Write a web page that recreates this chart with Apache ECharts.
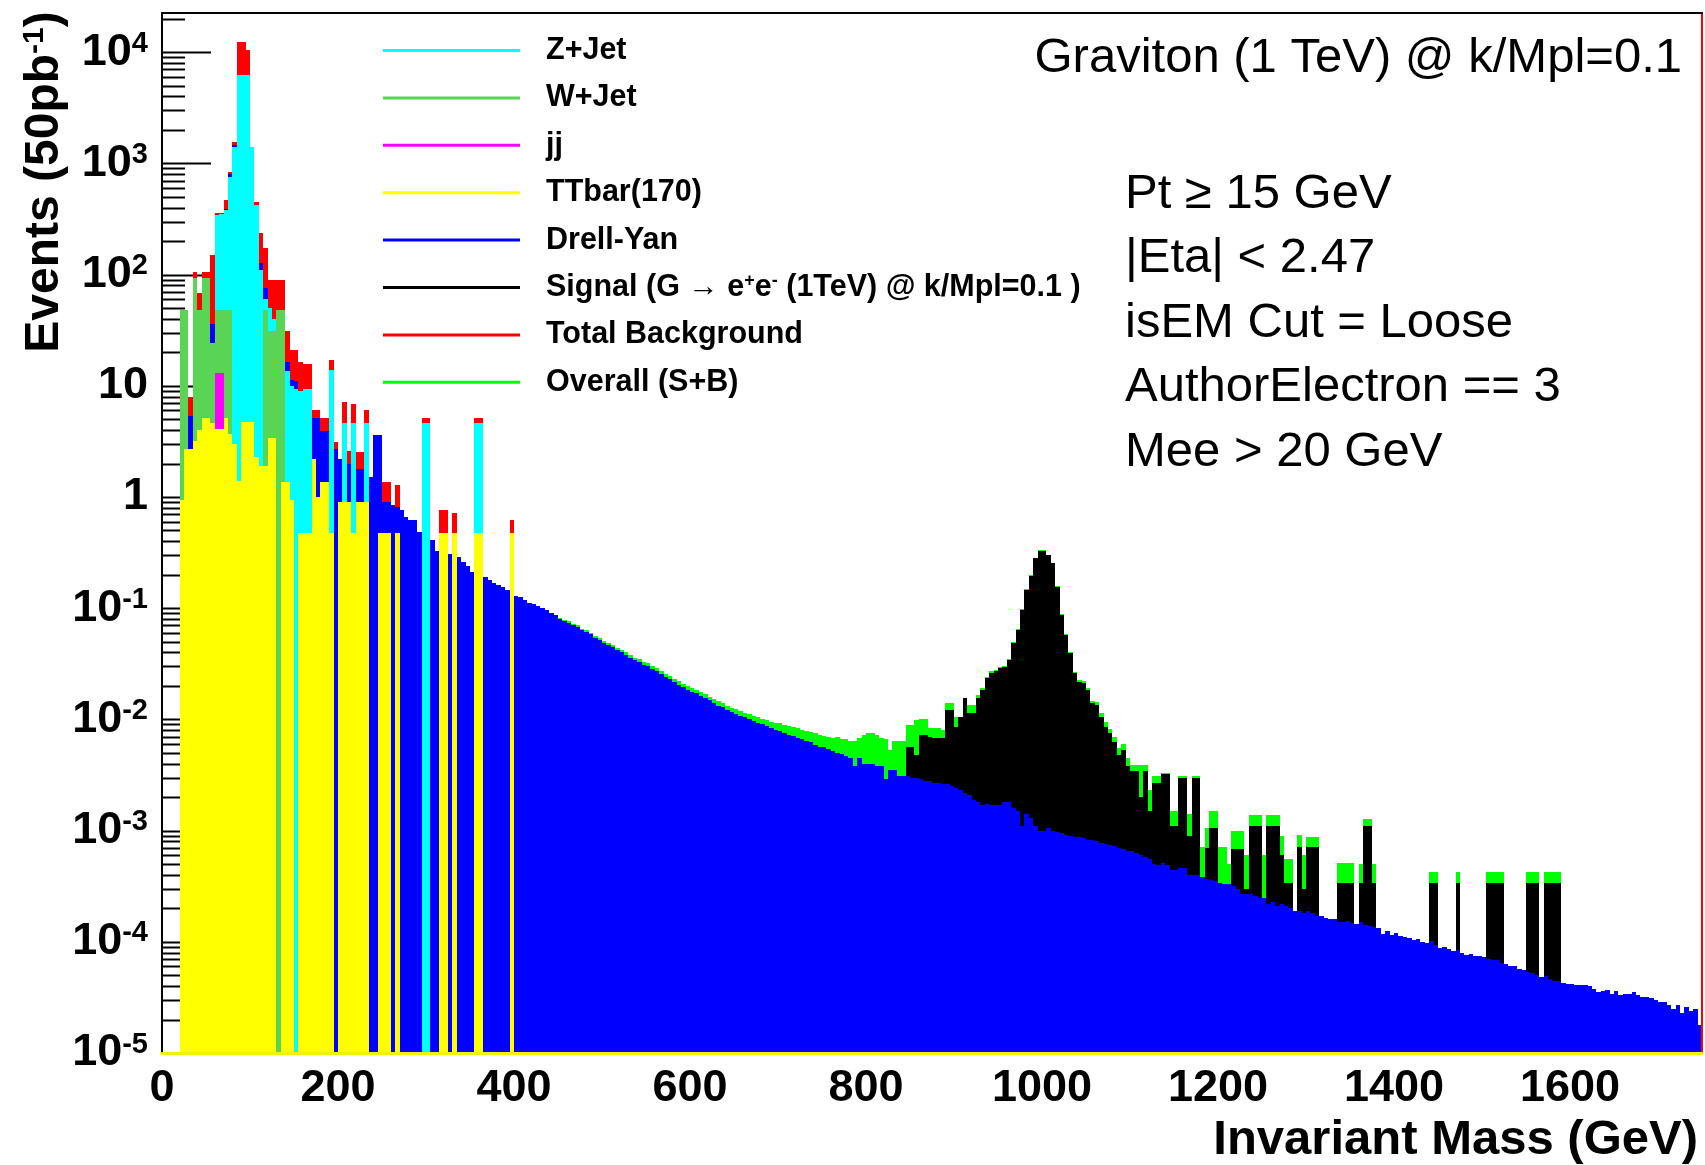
<!DOCTYPE html>
<html>
<head>
<meta charset="utf-8">
<title>Invariant mass spectrum - Graviton (1 TeV)</title>
<script src="https://cdn.jsdelivr.net/npm/echarts@6/dist/echarts.min.js"></script>
<style>
  html, body { margin: 0; padding: 0; background: #ffffff; }
  #chart { width: 1705px; height: 1165px; }
</style>
</head>
<body>
<div id="chart"></div>
<script>
// ---- binning and axis ranges ----
const BIN_WIDTH = 5;            // GeV per histogram bin
const MASS_MIN = 0, MASS_MAX = 1750;
const Y_MIN = 1e-5, Y_MAX = 2.25e4;
const X_TICK_STEP = 200;

// ---- per-bin contents (events / 50 pb^-1), first bin edge given by *_START ----
const LOW_START = 20;

// TTbar(170), 20 .. 400 GeV
const ttbar = [
  0.94, 2.7, 2.7, 3.2, 4.0, 5.1, 5.1, 4.6, 4.1, 4.1,
  5.1, 3.7, 3.0, 1.4, 4.7, 4.7, 4.7, 2.3, 1.9, 1.9,
  3.4, 3.4, 0, 1.37, 1.37, 0.94, 0, 0.47, 0.47, 0.47,
  2.2, 1.0, 1.37, 1.37, 0.47, 0, 0.9, 0.9, 0.9, 0.47,
  0.9, 0.9, 0.9, 0, 0, 0.47, 0.47, 0.47, 0, 0.47,
  0, 0, 0, 0, 0, 0, 0, 0, 0, 0.47,
  0.47, 0, 0.47, 0, 0, 0, 0, 0.47, 0.47, 0,
  0, 0, 0, 0, 0, 0.47, 0
];

// W+Jet, 20 .. 135 GeV
const wJet = [
  48, 48, 0, 93, 48, 93, 93, 24, 48, 48,
  48, 48, 0, 0, 0, 0, 0, 0, 0, 48,
  31, 31, 48, 48
];

// Z+Jet, 20 .. 360 GeV
const zJet = [
  0, 0, 0, 0, 0, 0, 0, 0, 340, 350,
  380, 760, 1400, 6240, 6240, 6240, 1400, 420, 110, 60,
  50, 40, 30, 25, 13.7, 10, 9.3, 9.0, 9.3, 9.3,
  0, 0, 0, 0, 13.8, 0, 0, 4.6, 0, 4.6,
  0, 0, 4.6, 0, 0, 0, 0, 0, 0, 0,
  0, 0, 0, 0, 0, 4.6, 4.6, 0, 0, 0,
  0, 0, 0, 0, 0, 0, 0, 4.6, 4.6
];

// jj, 20 .. 65 GeV
const diJet = [0, 0, 0, 0, 0, 0, 0, 0, 12.9, 12.9];

// Total background, 20 .. 400 GeV (above 400 GeV it coincides with Drell-Yan)
const totalBkg = [
  48, 48, 8.0, 106, 68, 106, 106, 150, 356, 356,
  469, 842, 1567, 12400, 12400, 10470, 1410, 453, 235, 172,
  89, 89, 89, 89, 31, 21, 21, 16.5, 15.8, 15.8,
  6.1, 6.1, 5.1, 5.1, 17, 3.1, 2.2, 7.1, 2.6, 6.9,
  2.55, 2.55, 6.1, 1.52, 3.6, 3.6, 1.37, 1.37, 0.85, 1.27,
  0.76, 0.66, 0.62, 0.62, 0.48, 5.1, 5.1, 0.41, 0.33, 0.77,
  0.77, 0.31, 0.72, 0.29, 0.26, 0.24, 0.21, 5.1, 5.1, 0.19,
  0.18, 0.17, 0.16, 0.155, 0.145, 0.62, 0.128
];

// Drell-Yan, 20 .. 1745 GeV
const drellYan = [
  5, 5.3, 5.3, 8, 10, 14, 20, 36, 60, 150,
  390, 800, 1450, 2500, 3000, 2000, 800, 300, 126, 75,
  45, 35, 28, 22, 16.4, 11.3, 11, 7, 6.5, 6,
  5.1, 5.1, 3.9, 3.9, 3.3, 2.7, 2.2, 2.2, 2.0, 2.0,
  1.8, 1.8, 1.6, 1.52, 3.6, 3.6, 0.9, 0.9, 0.85, 0.82,
  0.76, 0.66, 0.62, 0.62, 0.48, 0.45, 0.43, 0.41, 0.33, 0.33,
  0.32, 0.31, 0.30, 0.29, 0.26, 0.24, 0.21, 0.20, 0.20, 0.19,
  0.18, 0.17, 0.16, 0.155, 0.145, 0.135, 0.128, 0.125, 0.118, 0.112,
  0.110, 0.105, 0.100, 0.097, 0.090, 0.087, 0.080, 0.077, 0.074, 0.070,
  0.068, 0.063, 0.061, 0.058, 0.054, 0.052, 0.049, 0.047, 0.045, 0.042,
  0.040, 0.038, 0.036, 0.034, 0.033, 0.031, 0.030, 0.0285, 0.027, 0.0255,
  0.024, 0.023, 0.0215, 0.0205, 0.0195, 0.0185, 0.0178, 0.0172, 0.0163, 0.0155,
  0.0148, 0.0140, 0.0133, 0.0128, 0.0121, 0.0116, 0.0112, 0.0108, 0.0104, 0.0100,
  0.0097, 0.0093, 0.0090, 0.0087, 0.0084, 0.0081, 0.0079, 0.0076, 0.0073, 0.0071,
  0.0068, 0.0066, 0.0064, 0.0062, 0.0059, 0.0057, 0.0056, 0.0054, 0.0052, 0.0050,
  0.0049, 0.0047, 0.0045, 0.0038, 0.0045, 0.0040, 0.0040, 0.0040, 0.0038, 0.0038,
  0.0029, 0.0035, 0.0035, 0.0031, 0.0031, 0.0031, 0.0030, 0.0030, 0.0029, 0.0028,
  0.0028, 0.0027, 0.0027, 0.0026, 0.0026, 0.0025, 0.0024, 0.0023, 0.0022, 0.0021,
  0.0019, 0.0018, 0.0017, 0.00175, 0.0017, 0.0017, 0.0017, 0.0018, 0.0018, 0.0016,
  0.0015, 0.0011, 0.0014, 0.0013, 0.0011, 0.0010, 0.0010, 0.00105, 0.0010, 0.00098,
  0.00095, 0.00092, 0.00090, 0.00088, 0.00087, 0.00085, 0.00083, 0.00082, 0.00080, 0.00078,
  0.00075, 0.00074, 0.00072, 0.00070, 0.00068, 0.00066, 0.00066, 0.00063, 0.00060, 0.00058,
  0.00055, 0.00050, 0.00049, 0.00051, 0.00049, 0.00044, 0.00044, 0.00046, 0.00046, 0.00040,
  0.00040, 0.00040, 0.00038, 0.00037, 0.00036, 0.00035, 0.00034, 0.00033, 0.00033, 0.00032,
  0.00030, 0.00027, 0.00027, 0.00027, 0.00026, 0.00025, 0.00025, 0.00022, 0.00023, 0.00021,
  0.00022, 0.00021, 0.00020, 0.00019, 0.00019, 0.00018, 0.00019, 0.00018, 0.00017, 0.00017,
  0.000165, 0.00016, 0.00016, 0.00015, 0.00015, 0.000155, 0.000148, 0.000145, 0.000150, 0.000142,
  0.000140, 0.000135, 0.000133, 0.000118, 0.000124, 0.000114, 0.000120, 0.000112, 0.000110, 0.000108,
  0.000104, 0.000106, 0.000100, 0.000098, 0.000101, 0.000093, 0.000088, 0.000090, 0.000087, 0.000083,
  0.000084, 0.000080, 0.000076, 0.000078, 0.000075, 0.000074, 0.000073, 0.000070, 0.000068, 0.000069,
  0.000064, 0.000063, 0.000060, 0.000061, 0.000057, 0.000056, 0.000053, 0.000052, 0.000050, 0.000048,
  0.000049, 0.000046, 0.000044, 0.000044, 0.000043, 0.000042, 0.000042, 0.000041, 0.000041, 0.000041,
  0.000040, 0.000038, 0.000035, 0.000036, 0.000037, 0.000034, 0.000036, 0.000033, 0.000034, 0.000034,
  0.000035, 0.000033, 0.000032, 0.000032, 0.000031, 0.000030, 0.000029, 0.000029, 0.000027, 0.000025,
  0.000027, 0.000023, 0.000026, 0.000024, 0.000025, 0.000018
];

// Signal G -> ee (1 TeV), 845 .. 1585 GeV
const SIGNAL_START = 845;
const signal = [
  0.0057, 0.0057, 0.0048, 0.0072, 0.0072, 0.0070, 0.0068, 0.0068, 0.0068, 0.0121,
  0.0121, 0.0086, 0.0106, 0.0155, 0.0113, 0.0113, 0.0155, 0.0184, 0.0234, 0.026,
  0.027, 0.0288, 0.0297, 0.0342, 0.0483, 0.0637, 0.0964, 0.146, 0.195, 0.281,
  0.329, 0.329, 0.301, 0.253, 0.156, 0.087, 0.0574, 0.0393, 0.0259, 0.0218,
  0.0211, 0.0184, 0.0139, 0.0135, 0.0106, 0.0086, 0.0075, 0.0062, 0.0048, 0.0053,
  0.0038, 0.0034, 0.0034, 0.0020, 0.0034, 0.0015, 0.0027, 0.0027, 0.0032, 0.0032,
  0.0011, 0.0011, 0.0030, 0.0030, 0.0009, 0.0030, 0.0030, 0.0003, 0.0007, 0.00106,
  0.00106, 0.0003, 0.0003, 0.0002, 0.00068, 0.00068, 0.00068, 0.0003, 0.0011, 0.0011,
  0.0011, 0.0002, 0.0011, 0.0011, 0.0011, 0.0006, 0.00034, 0.00034, 0, 0.00071,
  0.0003, 0.00071, 0.00071, 0.00071, 0, 0, 0, 0, 0.00034, 0.00034,
  0.00034, 0.00034, 0, 0.00034, 0.0011, 0.0011, 0.00034, 0, 0, 0,
  0, 0, 0, 0, 0, 0, 0, 0, 0, 0.00034,
  0.00034, 0, 0, 0, 0, 0.00034, 0, 0, 0, 0,
  0, 0, 0.00034, 0.00034, 0.00034, 0.00034, 0, 0, 0, 0,
  0, 0.00034, 0.00034, 0.00034, 0, 0.00034, 0.00034, 0.00034, 0.00034
];

// Overall (S+B), 450 .. 1585 GeV (below 450 GeV it lies under the total background)
const OVERALL_START = 450;
const overall = [
  0.082, 0.079, 0.076, 0.072, 0.070, 0.065, 0.063, 0.060, 0.056, 0.054,
  0.051, 0.049, 0.047, 0.044, 0.042, 0.040, 0.038, 0.036, 0.035, 0.033,
  0.032, 0.030, 0.029, 0.027, 0.0255, 0.0245, 0.023, 0.022, 0.021, 0.020,
  0.0192, 0.0185, 0.0176, 0.0168, 0.016, 0.0152, 0.0145, 0.0139, 0.0133, 0.0127,
  0.0123, 0.0119, 0.0115, 0.0111, 0.0108, 0.0104, 0.0101, 0.0098, 0.0095, 0.0093,
  0.0092, 0.0089, 0.0087, 0.0085, 0.0083, 0.0080, 0.0079, 0.0077, 0.0075, 0.0073,
  0.0071, 0.0070, 0.0068, 0.0069, 0.0066, 0.0067, 0.0064, 0.0064, 0.0068, 0.0072,
  0.0075, 0.0075, 0.0072, 0.0068, 0.0066, 0.0053, 0.0064, 0.0064, 0.0064, 0.0089,
  0.0089, 0.0099, 0.0100, 0.0100, 0.0083, 0.0083, 0.0083, 0.0080, 0.0141, 0.0141,
  0.0106, 0.0106, 0.0155, 0.0135, 0.0135, 0.0166, 0.0190, 0.0240, 0.0270, 0.0280,
  0.0297, 0.0305, 0.0350, 0.0495, 0.065, 0.098, 0.148, 0.197, 0.283, 0.331,
  0.331, 0.303, 0.255, 0.157, 0.088, 0.0585, 0.0400, 0.0268, 0.0226, 0.0220,
  0.0192, 0.0147, 0.0143, 0.0114, 0.0094, 0.0082, 0.0069, 0.0055, 0.0060, 0.0045,
  0.0039, 0.0039, 0.0039, 0.0039, 0.0023, 0.0031, 0.0031, 0.0033, 0.0033, 0.0015,
  0.0015, 0.0031, 0.0031, 0.0014, 0.0031, 0.0031, 0.00071, 0.00106, 0.0015, 0.0015,
  0.00071, 0.00071, 0.0005, 0.00099, 0.00099, 0.00099, 0.0006, 0.00137, 0.00137, 0.00137,
  0.0006, 0.00137, 0.00137, 0.00137, 0.0009, 0.00055, 0.00055, 0, 0.00091, 0.0006,
  0.00088, 0.00088, 0.00088, 0, 0, 0, 0, 0.00051, 0.00051, 0.00051,
  0.00051, 0, 0.0005, 0.00127, 0.00127, 0.0005, 0, 0, 0, 0,
  0, 0, 0, 0, 0, 0, 0, 0, 0.00042, 0.00042,
  0, 0, 0, 0, 0.00042, 0, 0, 0, 0, 0,
  0, 0.00042, 0.00042, 0.00042, 0.00042, 0, 0, 0, 0, 0,
  0.00042, 0.00042, 0.00042, 0, 0.00042, 0.00042, 0.00042, 0.00042
];

// ---- axis decoration: log tick positions ----
const TICK_DECADES = [-5, -4, -3, -2, -1, 0, 1, 2, 3, 4];
const MINOR_STEPS = [2, 3, 4, 5, 6, 7, 8, 9];
const X_LABELS = [0, 200, 400, 600, 800, 1000, 1200, 1400, 1600];

// ---- text ----
const SIGNAL_NAME = 'Signal (G \u2192 e+e- (1TeV) @ k/Mpl=0.1 )';
const PLOT_TITLE = 'Graviton (1 TeV) @ k/Mpl=0.1';
const CUT_LINES = ['Pt \u2265 15 GeV', '|Eta| < 2.47', 'isEM Cut = Loose', 'AuthorElectron == 3', 'Mee > 20 GeV'];

const FONT = '"Liberation Sans", Arial, Helvetica, sans-serif';

const C = {
  zJet: '#00ffff',
  wJet: '#59d454',
  jj: '#ff00ff',
  tt: '#ffff00',
  dy: '#0000ff',
  sig: '#000000',
  tot: '#ff0000',
  sb: '#00ff00'
};

function toBins(start, values) {
  const out = [];
  values.forEach(function (v, i) {
    if (v > 0) out.push([start + i * BIN_WIDTH, start + (i + 1) * BIN_WIDTH, v]);
  });
  return out;
}

// filled histogram: each bin is a box from the bottom of the log axis up to its content
function histSeries(name, color, start, values) {
  return {
    type: 'custom',
    name: name,
    coordinateSystem: 'cartesian2d',
    xAxisIndex: 0,
    yAxisIndex: 0,
    clip: true,
    silent: true,
    itemStyle: { color: color },
    encode: { x: [0, 1], y: 2 },
    data: toBins(start, values),
    renderItem: function (params, api) {
      const top = api.coord([api.value(0), api.value(2)]);
      const bot = api.coord([api.value(1), Y_MIN]);
      const x0 = Math.round(top[0]), x1 = Math.round(bot[0]);
      const y0 = Math.round(top[1]), y1 = Math.round(bot[1]);
      return {
        type: 'rect',
        shape: { x: x0, y: y0, width: x1 - x0, height: y1 - y0 },
        style: { fill: color }
      };
    }
  };
}

// ROOT-style inner ticks on the log axis (2..9 minor ticks per decade)
const yTicks = [];
TICK_DECADES.forEach(function (e) {
  const base = Math.pow(10, e);
  yTicks.push([MASS_MIN, base, 1]);
  MINOR_STEPS.forEach(function (k) {
    const v = k * base;
    if (v <= Y_MAX) yTicks.push([MASS_MIN, v, 0]);
  });
});

const tickSeries = {
  type: 'custom',
  name: 'yticks',
  coordinateSystem: 'cartesian2d',
  silent: true,
  z: 1,
  encode: { x: 0, y: 1 },
  data: yTicks,
  renderItem: function (params, api) {
    const p = api.coord([api.value(0), api.value(1)]);
    const len = api.value(2) ? 49 : 23;
    const y = Math.round(p[1]) + 0.5;
    return {
      type: 'line',
      shape: { x1: p[0], y1: y, x2: p[0] + len, y2: y },
      style: { stroke: '#000', lineWidth: 2 }
    };
  }
};

const chart = echarts.init(document.getElementById('chart'), null, { renderer: 'canvas' });

const supStyle = { fontFamily: FONT, fontWeight: 'bold', fontSize: 29, lineHeight: 29, verticalAlign: 'top', color: '#000' };

const option = {
  animation: false,
  backgroundColor: '#ffffff',
  textStyle: { fontFamily: FONT },
  grid: { left: 162, right: 2, top: 13, bottom: 112, containLabel: false },
  xAxis: [
    {
      type: 'value',
      min: MASS_MIN, max: MASS_MAX, interval: X_TICK_STEP,
      position: 'bottom',
      z: 10,
      axisLine: { show: true, onZero: false, lineStyle: { color: '#f2f200', width: 3 } },
      axisTick: { show: false },
      splitLine: { show: false },
      axisLabel: {
        margin: 13,
        fontFamily: FONT, fontWeight: 'bold', fontSize: 45, color: '#000',
        formatter: function (v) { return X_LABELS.indexOf(v) >= 0 ? String(v) : ''; }
      }
    },
    {
      type: 'value',
      min: MASS_MIN, max: MASS_MAX,
      position: 'top',
      z: 10,
      axisLine: { show: true, onZero: false, lineStyle: { color: '#000', width: 2 } },
      axisTick: { show: false },
      axisLabel: { show: false },
      splitLine: { show: false }
    }
  ],
  yAxis: [
    {
      type: 'log', logBase: 10,
      min: Y_MIN, max: Y_MAX,
      splitNumber: 10,
      position: 'left',
      z: 10,
      axisLine: { show: true, onZero: false, lineStyle: { color: '#000', width: 2 } },
      axisTick: { show: false },
      splitLine: { show: false },
      axisLabel: {
        margin: 14,
        formatter: function (v) {
          const lg = Math.log10(v);
          const e = Math.round(lg);
          if (Math.abs(lg - e) > 1e-6) return '';
          if (e === 0) return '{b|1}';
          if (e === 1) return '{b|10}';
          return '{b|10}{s|' + e + '}';
        },
        rich: {
          b: { fontFamily: FONT, fontWeight: 'bold', fontSize: 45, lineHeight: 46, color: '#000' },
          s: supStyle
        }
      }
    },
    {
      type: 'log', logBase: 10,
      min: Y_MIN, max: Y_MAX,
      position: 'right',
      z: 10,
      axisLine: { show: true, onZero: false, lineStyle: { color: '#ff0000', width: 2 } },
      axisTick: { show: false },
      axisLabel: { show: false },
      splitLine: { show: false }
    }
  ],
  legend: {
    left: 378, top: 30,
    orient: 'vertical',
    icon: 'rect',
    itemWidth: 137, itemHeight: 3,
    itemGap: 16.4,
    selectedMode: false,
    data: ['Z+Jet', 'W+Jet', 'jj', 'TTbar(170)', 'Drell-Yan', SIGNAL_NAME, 'Total Background', 'Overall (S+B)'],
    formatter: function (name) {
      if (name === SIGNAL_NAME) return 'Signal (G \u2192 e{s|+}e{s|-} (1TeV) @ k/Mpl=0.1 )';
      return name;
    },
    textStyle: {
      fontFamily: FONT, fontWeight: 'bold', fontSize: 30.5, lineHeight: 30, color: '#000',
      padding: [0, 0, 0, 21],
      rich: {
        s: { fontFamily: FONT, fontWeight: 'bold', fontSize: 18, lineHeight: 17, verticalAlign: 'top', color: '#000' }
      }
    }
  },
  graphic: [
    {
      type: 'text', x: 45, y: 182, rotation: Math.PI / 2,
      style: {
        text: '{t|Events (50pb}{s|-1}{t|)}',
        textAlign: 'center', textVerticalAlign: 'middle',
        rich: {
          t: { fontFamily: FONT, fontWeight: 'bold', fontSize: 48, lineHeight: 50, fill: '#000' },
          s: { fontFamily: FONT, fontWeight: 'bold', fontSize: 30, lineHeight: 30, verticalAlign: 'top', fill: '#000' }
        }
      }
    },
    {
      type: 'text', x: 1698, y: 1140,
      style: {
        text: 'Invariant Mass (GeV)',
        font: 'bold 49px ' + FONT,
        textAlign: 'right', textVerticalAlign: 'middle', fill: '#000'
      }
    },
    {
      type: 'text', x: 1682, y: 58,
      style: {
        text: PLOT_TITLE,
        font: 'normal 49px ' + FONT,
        textAlign: 'right', textVerticalAlign: 'middle', fill: '#000'
      }
    }
  ].concat(CUT_LINES.map(function (t, i) {
    return {
      type: 'text', x: 1125, y: 194 + i * 64.5,
      style: {
        text: t,
        font: 'normal 49px ' + FONT,
        textAlign: 'left', textVerticalAlign: 'middle', fill: '#000'
      }
    };
  })),
  series: [
    tickSeries,
    histSeries('Overall (S+B)', C.sb, OVERALL_START, overall),
    histSeries('Total Background', C.tot, LOW_START, totalBkg),
    histSeries(SIGNAL_NAME, C.sig, SIGNAL_START, signal),
    histSeries('Drell-Yan', C.dy, LOW_START, drellYan),
    histSeries('Z+Jet', C.zJet, LOW_START, zJet),
    histSeries('W+Jet', C.wJet, LOW_START, wJet),
    histSeries('jj', C.jj, LOW_START, diJet),
    histSeries('TTbar(170)', C.tt, LOW_START, ttbar)
  ]
};

chart.setOption(option);
</script>
</body>
</html>
